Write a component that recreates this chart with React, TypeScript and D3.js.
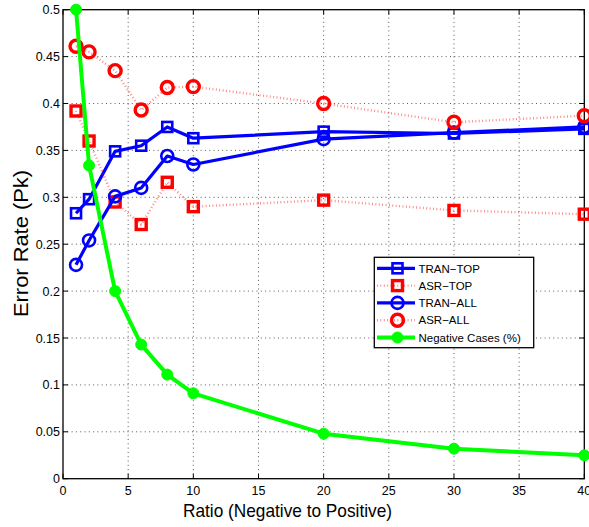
import React from "react";
import * as d3 from "d3";

const ratios = [1, 2, 4, 6, 8, 10, 20, 30, 40];
const tranTop = [0.283, 0.298, 0.349, 0.355, 0.375, 0.363, 0.370, 0.368, 0.373];
const asrTop = [0.392, 0.360, 0.295, 0.271, 0.316, 0.290, 0.297, 0.286, 0.282];
const tranAll = [0.228, 0.254, 0.301, 0.310, 0.344, 0.335, 0.362, 0.369, 0.375];
const asrAll = [0.461, 0.455, 0.435, 0.393, 0.417, 0.418, 0.400, 0.380, 0.387];
const negCases = [0.5, 0.334, 0.200, 0.143, 0.111, 0.091, 0.048, 0.032, 0.025];

const xTicks = [0, 5, 10, 15, 20, 25, 30, 35, 40];
const yTicks = [0, 0.05, 0.1, 0.15, 0.2, 0.25, 0.3, 0.35, 0.4, 0.45, 0.5];
const yTickLabels = ["0", "0.05", "0.1", "0.15", "0.2", "0.25", "0.3", "0.35", "0.4", "0.45", "0.5"];

type Series = {
  name: string;
  values: number[];
  color: string;
  marker: "square" | "circle" | "dot";
  dotted: boolean;
};

const series: Series[] = [
  { name: "TRAN\u2212TOP", values: tranTop, color: "#0000ff", marker: "square", dotted: false },
  { name: "ASR\u2212TOP", values: asrTop, color: "#ff0000", marker: "square", dotted: true },
  { name: "TRAN\u2212ALL", values: tranAll, color: "#0000ff", marker: "circle", dotted: false },
  { name: "ASR\u2212ALL", values: asrAll, color: "#ff0000", marker: "circle", dotted: true },
  { name: "Negative Cases (%)", values: negCases, color: "#00ff00", marker: "dot", dotted: false },
];

const W = 589;
const H = 527;
const L = 63;
const R = 584.3;
const T = 9.7;
const B = 478.7;
const FONT = "'Liberation Sans', Arial, Helvetica, sans-serif";

function Marker({ s, cx, cy }: { s: Series; cx: number; cy: number }) {
  if (s.marker === "square") {
    const size = 10;
    return (
      <rect
        x={cx - size / 2}
        y={cy - size / 2}
        width={size}
        height={size}
        fill="none"
        stroke={s.color}
        strokeWidth={s.dotted ? 3.4 : 2.6}
      />
    );
  }
  if (s.marker === "circle") {
    return <circle cx={cx} cy={cy} r={6} fill="none" stroke={s.color} strokeWidth={s.dotted ? 3.4 : 2.6} />;
  }
  return <circle cx={cx} cy={cy} r={5.5} fill={s.color} stroke={s.color} strokeWidth={1} />;
}

export default function App() {
  const x = d3.scaleLinear().domain([0, 40]).range([L, R]);
  const y = d3.scaleLinear().domain([0, 0.5]).range([B, T]);
  const line = d3
    .line<[number, number]>()
    .x((d) => x(d[0]))
    .y((d) => y(d[1]));

  const legendX = 374.3;
  const legendY = 257.3;
  const legendW = 159.4;
  const legendH = 90.4;
  const rowY = [268.3, 285.6, 302.9, 320.2, 337.5];

  const lineWidth = (s: Series) => (s.dotted ? 2.4 : s.marker === "dot" ? 4 : 3.2);

  return (
    <svg
      width={W}
      height={H}
      style={{ position: "fixed", left: 0, top: 0, background: "#fff" }}
      fontFamily={FONT}
    >
      <rect x={0} y={0} width={W} height={H} fill="#fff" />
      {/* grid */}
      {xTicks.slice(1, -1).map((t) => (
        <line key={"gx" + t} x1={x(t)} x2={x(t)} y1={B} y2={T} stroke="#333" strokeWidth={1} strokeDasharray="1 3.3" opacity={0.8} />
      ))}
      {yTicks.slice(1, -1).map((t) => (
        <line key={"gy" + t} x1={L} x2={R} y1={y(t)} y2={y(t)} stroke="#333" strokeWidth={1} strokeDasharray="1 3.3" opacity={0.8} />
      ))}
      {/* ticks */}
      {xTicks.map((t) => (
        <g key={"tx" + t}>
          <line x1={x(t)} x2={x(t)} y1={B} y2={B - 5} stroke="#000" strokeWidth={1} />
          <line x1={x(t)} x2={x(t)} y1={T} y2={T + 5} stroke="#000" strokeWidth={1} />
          <text x={x(t)} y={495} textAnchor="middle" fontSize={12.5} fill="#000">
            {t}
          </text>
        </g>
      ))}
      {yTicks.map((t, i) => (
        <g key={"ty" + t}>
          <line x1={L} x2={L + 5} y1={y(t)} y2={y(t)} stroke="#000" strokeWidth={1} />
          <line x1={R} x2={R - 5} y1={y(t)} y2={y(t)} stroke="#000" strokeWidth={1} />
          <text x={60} y={y(t) + 4.5} textAnchor="end" fontSize={12.5} fill="#000">
            {yTickLabels[i]}
          </text>
        </g>
      ))}
      {/* frame */}
      <rect x={L} y={T} width={R - L} height={B - T} fill="none" stroke="#000" strokeWidth={1.3} />

      {/* series */}
      {series.map((s) => {
        const pts: [number, number][] = ratios.map((r, i) => [r, s.values[i]]);
        return (
          <g key={s.name}>
            <path
              d={line(pts) || ""}
              fill="none"
              stroke={s.color}
              strokeWidth={lineWidth(s)}
              strokeDasharray={s.dotted ? "0.9 2.5" : undefined}
              opacity={s.dotted ? 0.5 : 1}
              strokeLinejoin="round"
            />
            {pts.map((p, i) => (
              <Marker key={i} s={s} cx={x(p[0])} cy={y(p[1])} />
            ))}
          </g>
        );
      })}

      {/* legend */}
      <rect x={legendX} y={legendY} width={legendW} height={legendH} fill="#fff" stroke="#000" strokeWidth={1.3} />
      {series.map((s, i) => (
        <g key={"lg" + s.name}>
          <line
            x1={377}
            x2={415}
            y1={rowY[i]}
            y2={rowY[i]}
            stroke={s.color}
            strokeWidth={lineWidth(s)}
            strokeDasharray={s.dotted ? "0.9 2.5" : undefined}
            opacity={s.dotted ? 0.5 : 1}
          />
          <Marker s={s} cx={397.5} cy={rowY[i]} />
          <text x={418.5} y={rowY[i] + 4.2} fontSize={11.5} fill="#000">
            {s.name}
          </text>
        </g>
      ))}

      {/* axis labels */}
      <text x={287.5} y={516.5} textAnchor="middle" fontSize={19} fill="#000" textLength={209} lengthAdjust="spacingAndGlyphs">
        Ratio (Negative to Positive)
      </text>
      <text
        transform={`translate(27.5, 243.5) rotate(-90)`}
        textAnchor="middle"
        fontSize={19.5}
        fill="#000"
        textLength={147}
        lengthAdjust="spacingAndGlyphs"
      >
        Error Rate (Pk)
      </text>
    </svg>
  );
}
